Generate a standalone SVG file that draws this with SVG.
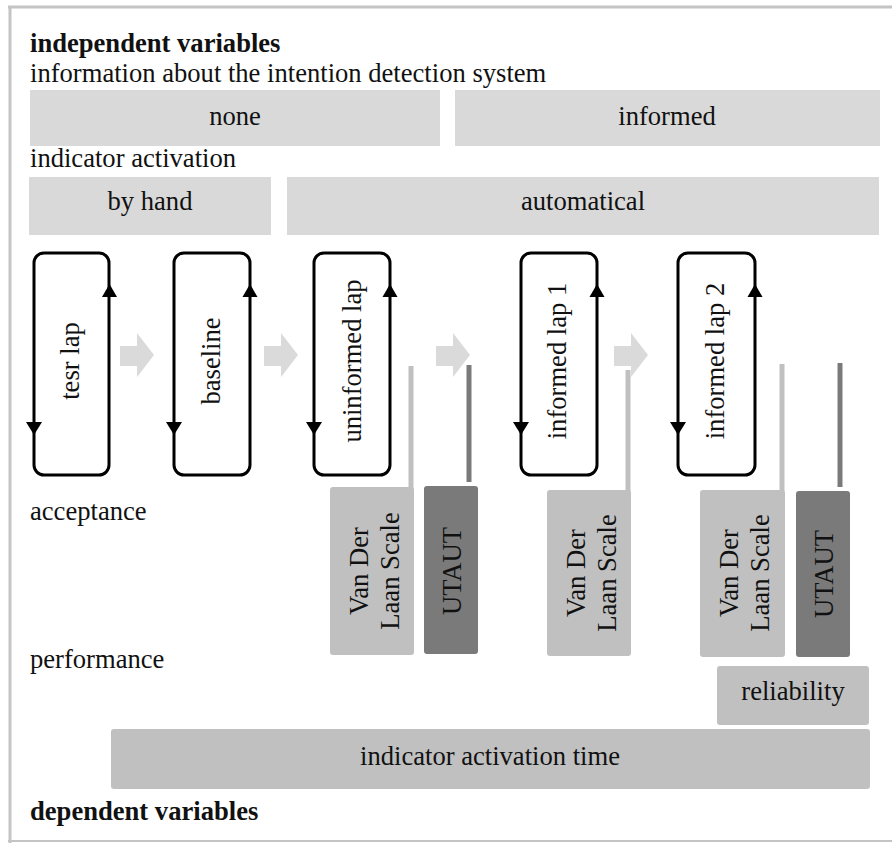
<svg xmlns="http://www.w3.org/2000/svg" width="892" height="843" viewBox="0 0 892 843">
<style>
text{font-family:"Liberation Serif","Times New Roman",serif;font-size:26.6px;fill:#111}
.b{font-weight:bold}
.m{text-anchor:middle}
.iv{fill:#d9d9d9}
.lt{fill:#c0c0c0}
.dk{fill:#7a7a7a}
.loop{fill:#fff;stroke:#000;stroke-width:3}
.ah{fill:#000}
.chev{fill:#dadada}
.ll{stroke:#c0c0c0;stroke-width:5}
.dl{stroke:#7a7a7a;stroke-width:5}
.frame{stroke:#c4c4c4;fill:none}
</style>
<rect width="892" height="843" fill="#fff"/>
<g id="frame">
<line class="frame" x1="8" y1="7" x2="892" y2="7" stroke-width="3"/>
<line class="frame" x1="10" y1="6" x2="10" y2="843" stroke-width="3"/>
<line class="frame" x1="8" y1="841" x2="892" y2="841" stroke-width="2"/>
</g>
<g id="labels">
<text class="b" x="30" y="52">independent variables</text>
<text x="30" y="82">information about the intention detection system</text>
<text x="30" y="167">indicator activation</text>
<text x="30" y="520">acceptance</text>
<text x="30" y="668">performance</text>
<text class="b" x="30" y="820">dependent variables</text>
</g>
<g id="none"><rect class="iv" x="30" y="90" width="410" height="56"/><text class="m" x="235" y="125">none</text></g>
<g id="informed"><rect class="iv" x="455" y="90" width="425" height="56"/><text class="m" x="667" y="125">informed</text></g>
<g id="byhand"><rect class="iv" x="29" y="177" width="242" height="58"/><text class="m" x="150" y="210">by hand</text></g>
<g id="automatical"><rect class="iv" x="287" y="177" width="592" height="58"/><text class="m" x="583" y="210">automatical</text></g>
<g id="connectors">
<polygon class="chev" points="120,346 137,346 137,333 154,355 137,377 137,366 120,366"/>
<polygon class="chev" points="264,346 281,346 281,333 298,355 281,377 281,366 264,366"/>
<polygon class="chev" points="436,346 453,346 453,333 470,355 453,377 453,366 436,366"/>
<polygon class="chev" points="614,346 631,346 631,333 648,355 631,377 631,366 614,366"/>
<line class="ll" x1="411" y1="366" x2="411" y2="490"/>
<line class="dl" x1="469" y1="365" x2="469" y2="482"/>
<line class="ll" x1="628" y1="370" x2="628" y2="492"/>
<line class="ll" x1="782" y1="364" x2="782" y2="492"/>
<line class="dl" x1="840" y1="363" x2="840" y2="487"/>
</g>
<g id="lap_test">
<rect class="loop" x="34" y="253" width="75" height="222" rx="10"/>
<polygon class="ah" points="102,297 117,297 109.5,284"/>
<polygon class="ah" points="26,422 42,422 34,435"/>
<text class="m" transform="translate(79,361) rotate(-90)">tesr lap</text>
</g>
<g id="lap_baseline">
<rect class="loop" x="174" y="253" width="76" height="222" rx="10"/>
<polygon class="ah" points="242.5,297 257.5,297 250,284"/>
<polygon class="ah" points="166,422 182,422 174,435"/>
<text class="m" transform="translate(220,361) rotate(-90)">baseline</text>
</g>
<g id="lap_uninformed">
<rect class="loop" x="314" y="253" width="76" height="222" rx="10"/>
<polygon class="ah" points="382.5,297 397.5,297 390,284"/>
<polygon class="ah" points="306,422 322,422 314,435"/>
<text class="m" transform="translate(361,361) rotate(-90)">uninformed lap</text>
</g>
<g id="lap_informed1">
<rect class="loop" x="521" y="253" width="76" height="222" rx="10"/>
<polygon class="ah" points="589.5,297 604.5,297 597,284"/>
<polygon class="ah" points="513,422 529,422 521,435"/>
<text class="m" transform="translate(566,361) rotate(-90)">informed lap 1</text>
</g>
<g id="lap_informed2">
<rect class="loop" x="678" y="253" width="77" height="222" rx="10"/>
<polygon class="ah" points="747.5,297 762.5,297 755,284"/>
<polygon class="ah" points="670,422 686,422 678,435"/>
<text class="m" transform="translate(724,361) rotate(-90)">informed lap 2</text>
</g>
<g id="vdl1"><rect class="lt" x="330" y="487" width="84" height="168" rx="3"/>
<text class="m" transform="translate(368,571) rotate(-90)">Van Der</text>
<text class="m" transform="translate(399,571) rotate(-90)">Laan Scale</text></g>
<g id="utaut1"><rect class="dk" x="424" y="486" width="54" height="168" rx="3"/>
<text class="m" transform="translate(461,571) rotate(-90)">UTAUT</text></g>
<g id="vdl2"><rect class="lt" x="547" y="490" width="84" height="166" rx="3"/>
<text class="m" transform="translate(585,573) rotate(-90)">Van Der</text>
<text class="m" transform="translate(616,573) rotate(-90)">Laan Scale</text></g>
<g id="vdl3"><rect class="lt" x="700" y="490" width="85" height="167" rx="3"/>
<text class="m" transform="translate(738,573) rotate(-90)">Van Der</text>
<text class="m" transform="translate(769,573) rotate(-90)">Laan Scale</text></g>
<g id="utaut2"><rect class="dk" x="796" y="491" width="54" height="166" rx="3"/>
<text class="m" transform="translate(833,574) rotate(-90)">UTAUT</text></g>
<g id="reliability"><rect class="lt" x="717" y="666" width="152" height="59" rx="3"/>
<text class="m" x="793" y="700">reliability</text></g>
<g id="activation_time"><rect class="lt" x="111" y="729" width="759" height="60" rx="3"/>
<text class="m" x="490" y="765">indicator activation time</text></g>
</svg>
